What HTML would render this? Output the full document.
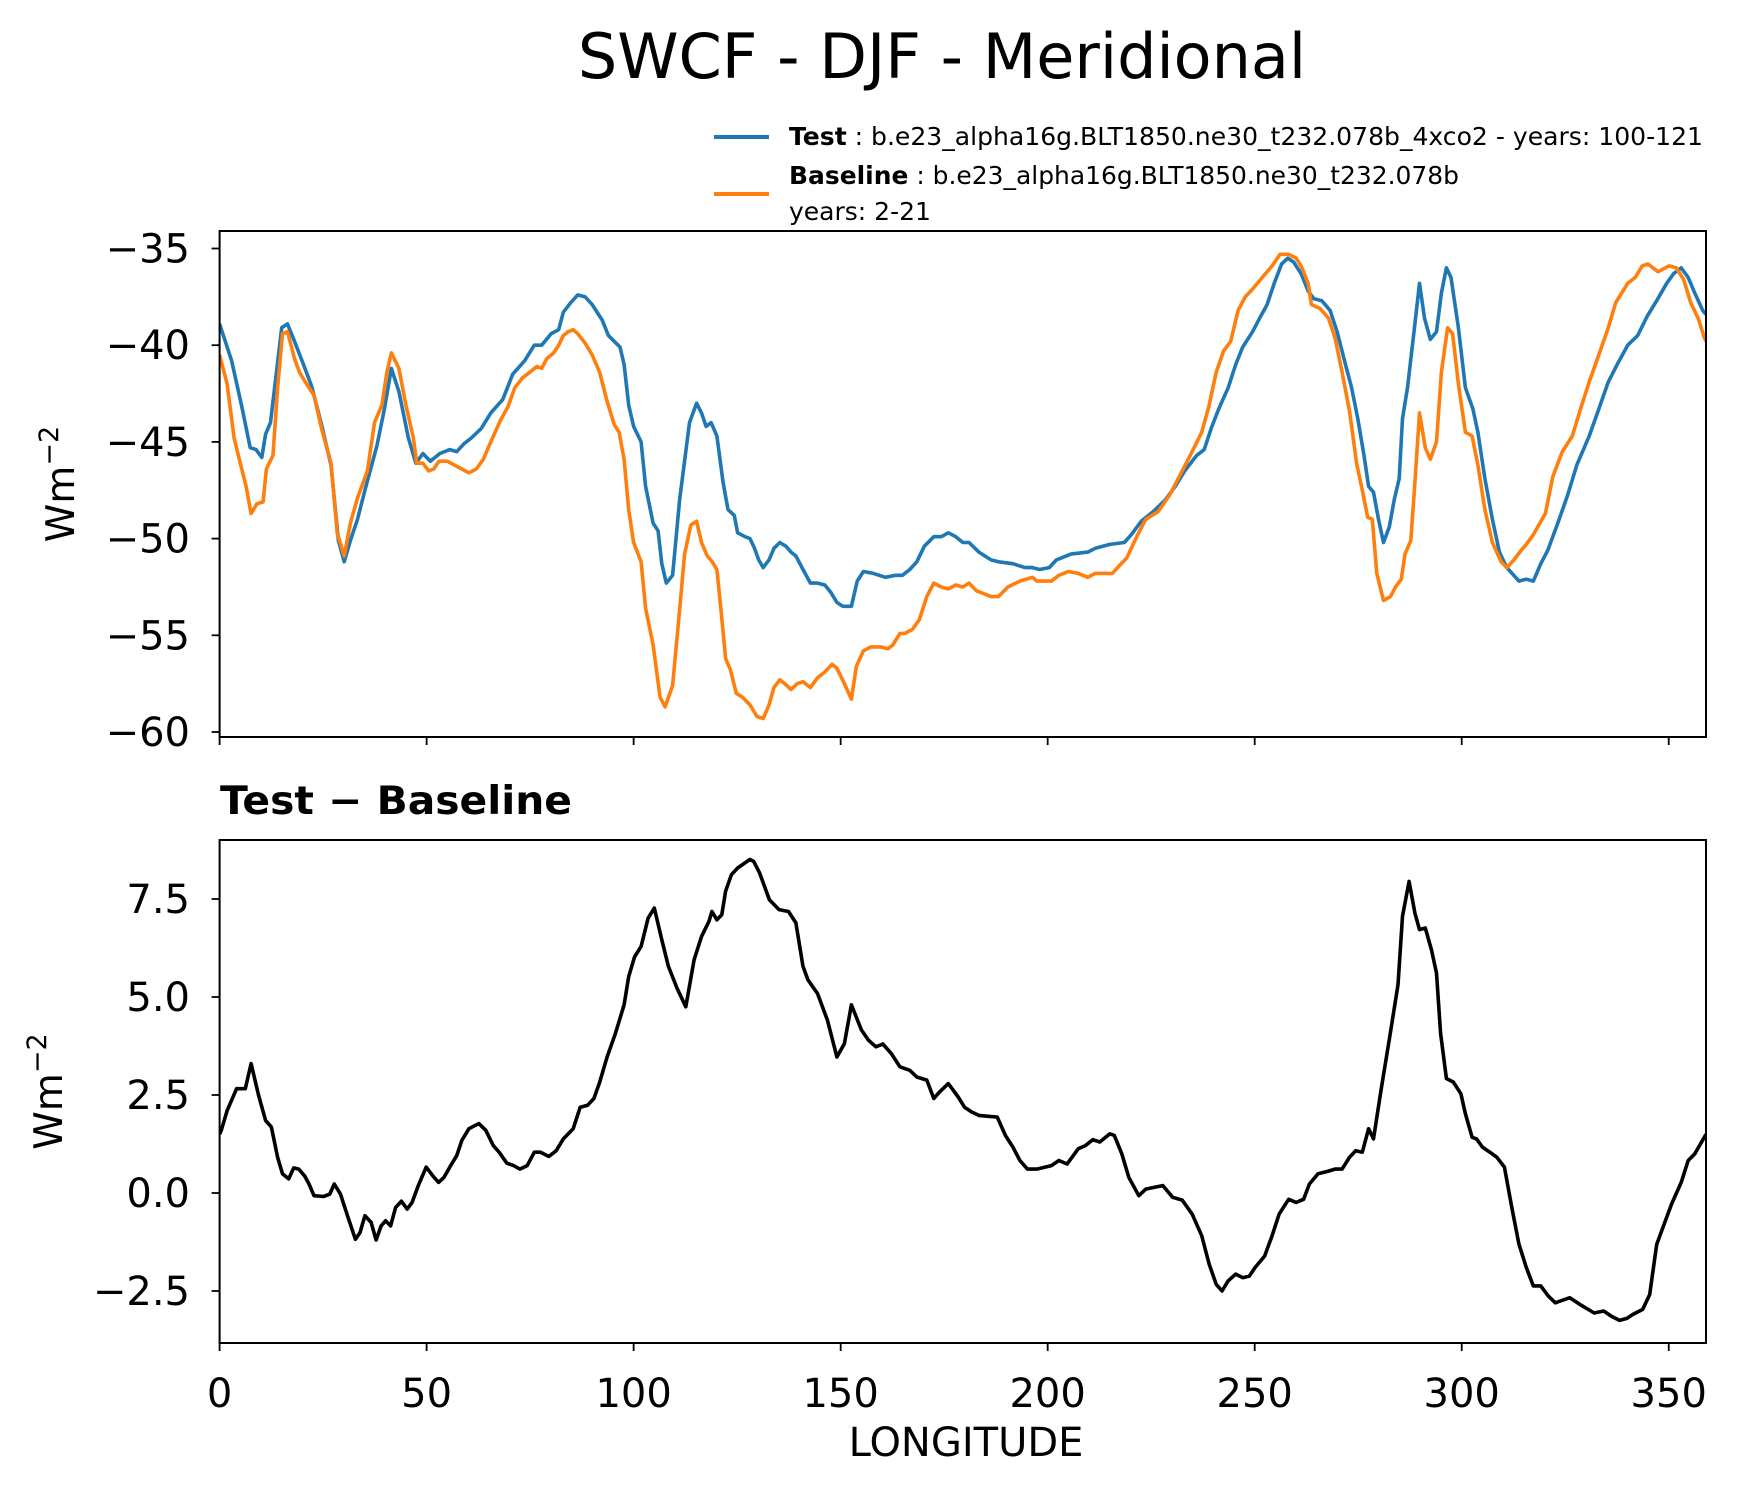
<!DOCTYPE html>
<html><head><meta charset="utf-8"><style>
html,body{margin:0;padding:0;background:#fff;}
svg{display:block;font-family:"DejaVu Sans","Liberation Sans",sans-serif;}
</style></head><body>
<svg id="chart" width="1739" height="1496" viewBox="0 0 1739 1496" xmlns="http://www.w3.org/2000/svg">
<rect width="1739" height="1496" fill="#fff"/>
<text x="942" y="78" font-size="62" text-anchor="middle">SWCF - DJF - Meridional</text>
<g>
<line x1="714" y1="137" x2="769" y2="137" stroke="#1f77b4" stroke-width="4"/>
<text x="789" y="145" font-size="25" textLength="914" lengthAdjust="spacingAndGlyphs"><tspan font-weight="bold">Test</tspan> : b.e23_alpha16g.BLT1850.ne30_t232.078b_4xco2 - years: 100-121</text>
<line x1="714" y1="194" x2="769" y2="194" stroke="#ff7f0e" stroke-width="4"/>
<text x="789" y="184" font-size="25" textLength="670" lengthAdjust="spacingAndGlyphs"><tspan font-weight="bold">Baseline</tspan> : b.e23_alpha16g.BLT1850.ne30_t232.078b</text>
<text x="789" y="220" font-size="25">years: 2-21</text>
</g>
<text x="220" y="814" font-size="39" font-weight="bold" textLength="352" lengthAdjust="spacingAndGlyphs">Test − Baseline</text>
<text x="966" y="1456" font-size="40" text-anchor="middle">LONGITUDE</text>
<g id="g1"></g>
<g id="g2"></g>
</svg>
<script>
const testLon=[0,2.9,5.3,7.4,8.8,10.2,11.1,12.3,15,16.4,18.1,19.9,22.2,24.6,26.9,28.7,30.1,31.6,33.3,35.1,38,39.8,41.5,43.3,45.6,47.4,49.1,50.9,53.2,55.6,57.3,59,60.8,63.2,65.5,68.4,70.8,73.7,76,77.8,80.1,81.9,83,84.8,86.5,88.3,90,92.4,93.9,95.3,96.7,97.7,98.8,100,101.8,102.9,104.7,105.9,106.8,107.9,109.4,111.1,113.5,115.2,116.4,117.5,118.7,120.1,121.6,122.8,124.3,125.1,126.9,128.1,129.2,130.2,131.3,132.7,133.9,135.3,136.8,138,139.2,140.9,142.7,144.4,146.2,147.7,149.1,150.5,152.6,154,155.5,157.9,160.8,163.2,164.9,166.7,168.4,170.2,172.5,174.3,176,177.8,179.5,181,183.4,186.3,188.1,191.6,194.5,196.3,198,200.4,202.1,205.6,209.7,211.5,215,218.5,220.2,222.6,225.5,228.4,230.8,233.1,236,237.8,239.5,241.3,243.6,245.4,247.1,249.5,251.2,253,254.7,256.5,258,259.4,261.2,262.9,264.3,266.2,268.2,269.9,271.7,273.4,274.9,276.4,277.5,278.7,279.9,281.1,282.5,283.7,284.9,285.7,286.9,288.7,289.8,291,292.4,293.9,295.1,296.3,297.4,299.2,300.9,302.7,303.9,305.6,307.4,309.1,310.9,313.8,315.6,317.3,319.1,320.8,323.2,325.5,327.8,330.8,333.1,335.4,337.8,340.1,342.5,344.8,347.1,349.5,351.2,353,354.7,356.5,358.2,359];
const testVal=[-38.9,-40.8,-43.1,-45.3,-45.4,-45.8,-44.6,-44,-39.1,-38.9,-39.8,-40.8,-42.1,-44.1,-46.2,-50.1,-51.2,-50.1,-49,-47.5,-45.2,-43.3,-41.2,-42.4,-44.8,-46.1,-45.6,-46,-45.6,-45.4,-45.5,-45.1,-44.8,-44.3,-43.5,-42.8,-41.5,-40.8,-40,-40,-39.4,-39.2,-38.3,-37.8,-37.4,-37.5,-37.9,-38.7,-39.5,-39.8,-40.1,-41,-43.1,-44.2,-45,-47.3,-49.2,-49.6,-51.3,-52.3,-51.9,-48,-44,-43,-43.5,-44.2,-44,-44.7,-47.1,-48.5,-48.8,-49.7,-49.9,-50,-50.5,-51.1,-51.5,-51.1,-50.5,-50.2,-50.4,-50.7,-50.9,-51.6,-52.3,-52.3,-52.4,-52.8,-53.3,-53.5,-53.5,-52.2,-51.7,-51.8,-52,-51.9,-51.9,-51.6,-51.2,-50.4,-49.9,-49.9,-49.7,-49.9,-50.2,-50.2,-50.7,-51.1,-51.2,-51.3,-51.5,-51.5,-51.6,-51.5,-51.1,-50.8,-50.7,-50.5,-50.3,-50.2,-49.8,-49.1,-48.6,-48,-47.3,-46.5,-45.7,-45.4,-44.3,-43.3,-42.2,-41,-40.1,-39.3,-38.6,-37.9,-36.8,-35.8,-35.5,-35.7,-36.3,-37.2,-37.6,-37.7,-38.2,-39.3,-40.8,-42.2,-43.8,-45.7,-47.3,-47.6,-49,-50.2,-49.4,-48,-46.9,-43.8,-42.2,-38.9,-36.8,-38.6,-39.7,-39.3,-37.3,-36,-36.5,-39.1,-42.2,-43.3,-44.5,-46.9,-49,-50.7,-51.5,-52.2,-52.1,-52.2,-51.3,-50.6,-49.2,-47.8,-46.2,-44.7,-43.3,-41.9,-40.9,-40,-39.5,-38.5,-37.7,-36.8,-36.3,-36,-36.5,-37.4,-38.2,-38.4];
const baseLon=[0,1.8,3.5,5,6.4,7.6,9,10.5,11.3,12.9,14,15.2,16.4,18.1,19.3,21,22.8,24.6,26.9,28.4,30.1,31.6,33.3,35.7,37.4,39.2,40.4,41.5,43.3,45,46.8,47.6,49.1,50.5,51.7,53,55,56.7,58.5,60.2,62,63.7,65.5,67.8,69.6,71.3,73.1,74.9,76.6,77.8,79,80.7,81.9,83,84.2,85.4,86.5,88.3,90,91.8,93.6,95.3,96.5,97.7,98.8,100,101.8,102.9,104.7,106.4,107.6,109.4,111.1,112.3,113.8,115.2,116.4,117.8,119,120.1,121.1,122.2,123.4,124.8,126.3,128.1,129.8,131.3,132.7,133.9,135.3,136.5,138,139.5,140.9,142.7,144.4,146.2,147.9,149.1,150.9,152.6,153.8,155.5,157.3,159.6,161.4,162.6,164.3,165.5,167.3,169,170.8,172.5,174.3,176,177.8,179.5,181,182.8,186.3,188.1,190.4,193.3,196.3,197.4,200.9,202.7,205,207.4,209.7,211.5,215.6,217.3,219.1,221.5,223.7,226.7,229.6,232.5,234.9,237.2,238.9,240.7,242.5,244.2,246,247.7,249.5,251.8,254.2,256.1,258.2,260,261.2,262.9,263.7,265.8,267.8,269.4,271.1,272.9,274.6,276,277.3,278.4,279.5,281.1,282.8,284,285.4,286.3,287.7,288.7,289.8,291.2,292.4,293.9,295.1,296.6,297.8,299.2,300.9,302.5,303.9,305.6,307.4,309.5,310.9,312.6,314.4,315.6,317.3,320.2,322,324.3,326.7,328.4,330.8,333.1,335.4,337.2,340.1,341.9,343.6,345,347.4,350.1,351.8,353.6,355.3,357.1,358.6,359];
const baseVal=[-40.5,-42,-44.8,-46.1,-47.3,-48.7,-48.2,-48.1,-46.4,-45.7,-42.2,-39.4,-39.3,-40.7,-41.4,-42,-42.6,-44.3,-46.1,-49.7,-50.9,-49.2,-47.9,-46.5,-44,-43.1,-41.4,-40.4,-41.2,-43.1,-44.8,-46.1,-46.1,-46.5,-46.4,-46,-46,-46.2,-46.4,-46.6,-46.4,-45.9,-45,-43.9,-43.2,-42.2,-41.7,-41.4,-41.1,-41.2,-40.7,-40.4,-40,-39.5,-39.3,-39.2,-39.4,-39.9,-40.5,-41.4,-42.9,-44.1,-44.5,-45.9,-48.5,-50.2,-51.2,-53.6,-55.5,-58.2,-58.7,-57.6,-53.7,-50.8,-49.3,-49.1,-50.2,-50.9,-51.2,-51.6,-53.7,-56.2,-56.8,-58,-58.2,-58.6,-59.2,-59.3,-58.6,-57.7,-57.3,-57.5,-57.8,-57.5,-57.4,-57.7,-57.2,-56.9,-56.5,-56.7,-57.5,-58.3,-56.6,-55.8,-55.6,-55.6,-55.7,-55.5,-54.9,-54.9,-54.7,-54.2,-53,-52.3,-52.5,-52.6,-52.4,-52.5,-52.3,-52.7,-53,-53,-52.5,-52.2,-52,-52.2,-52.2,-51.9,-51.7,-51.8,-52,-51.8,-51.8,-51.4,-51,-49.9,-49,-48.6,-47.7,-46.5,-45.5,-44.5,-43.2,-41.4,-40.3,-39.8,-38.2,-37.5,-37.1,-36.5,-35.9,-35.3,-35.3,-35.5,-35.9,-36.8,-37.9,-38.1,-38.6,-39.6,-41.4,-43.4,-46.1,-47.5,-48.9,-49,-51.8,-53.2,-53,-52.5,-52.1,-50.8,-50.1,-47.1,-43.5,-45.3,-45.9,-45,-41.4,-39.1,-39.4,-42,-44.5,-44.7,-46.2,-48.5,-50.2,-51.2,-51.5,-51.1,-50.6,-50.3,-49.8,-48.7,-46.8,-45.5,-44.7,-43.5,-41.9,-40.5,-39.1,-37.8,-36.8,-36.5,-35.9,-35.8,-36.2,-35.9,-36,-36.6,-37.8,-38.6,-39.6,-39.8];
const diffLon=[0,0.4,1.8,4.1,6.2,7.6,9.4,11.1,12.5,14,15.2,16.7,17.9,19.1,20.5,21.6,22.8,25.1,26.6,27.7,29.2,31,32.8,33.9,35.1,36.6,37.8,39,40.1,41.3,42.5,43.9,45.3,46.5,48,49.9,51.5,52.9,54.2,55.6,57.3,58.5,60.2,62.6,64.3,66.1,67.5,69.4,71,72.5,74.3,76,77.5,79.5,81.3,83,85.4,87.1,88.9,90.4,91.8,93.6,95.6,97.7,98.8,100.2,101.8,103.5,105,106.8,108.4,110.5,112.6,114.6,116.4,118.2,118.9,120.1,121.3,122.2,123.6,125.1,126.9,128.1,129,130.4,132.8,135.1,137.4,139.2,140.9,142.1,144.4,146.8,149.1,150.9,152.6,155,156.7,158.5,160.2,162.2,164.3,166.7,168.4,170.8,172.5,173.9,176,178.4,179.9,181.6,183.4,186.3,187.8,189.8,191.6,193.3,195.1,197.4,200.9,202.7,204.7,207.4,209.1,210.9,212.6,215,216.1,217.9,219.6,222,223.7,225.5,227.8,230.2,232.5,234.9,237.2,239,240.7,242.1,243.6,245.4,247.1,248.7,250.1,252.4,254.2,255.9,258.2,260,261.8,263.2,265.3,267.6,269.4,271.1,272.9,274.4,276,277.5,278.7,280.5,282.6,284.6,285.7,287.3,288.7,289.8,291.2,292.7,293.9,294.9,296.3,298,299.8,300.9,302.5,303.6,305,306.8,308.5,310.3,312.1,313.8,315.6,317.3,319.1,320.9,322.6,326.1,328.5,332,334.3,336.1,338.1,339.9,341.3,343.7,345.4,347.1,348.9,350.7,353,354.7,356.3,358.6,359];
const diffVal=[1.5,1.6,2.1,2.66,2.66,3.3,2.5,1.85,1.68,0.91,0.49,0.36,0.64,0.61,0.44,0.23,-0.07,-0.09,-0.03,0.23,-0.03,-0.62,-1.18,-1.01,-0.58,-0.75,-1.2,-0.84,-0.71,-0.84,-0.37,-0.21,-0.41,-0.24,0.19,0.66,0.44,0.27,0.4,0.66,0.96,1.34,1.64,1.77,1.6,1.21,1.04,0.76,0.7,0.61,0.7,1.04,1.04,0.93,1.08,1.38,1.64,2.19,2.24,2.41,2.83,3.47,4.07,4.8,5.52,6.02,6.29,7.01,7.27,6.46,5.78,5.22,4.75,5.95,6.54,6.93,7.18,6.97,7.1,7.7,8.12,8.29,8.42,8.51,8.46,8.17,7.48,7.23,7.18,6.89,5.78,5.44,5.09,4.41,3.47,3.81,4.8,4.16,3.9,3.73,3.8,3.56,3.22,3.13,2.96,2.88,2.41,2.58,2.79,2.45,2.19,2.07,1.98,1.95,1.94,1.47,1.17,0.83,0.61,0.61,0.7,0.83,0.74,1.13,1.21,1.36,1.3,1.51,1.47,1,0.4,-0.07,0.1,0.14,0.19,-0.11,-0.18,-0.54,-1.09,-1.82,-2.33,-2.5,-2.24,-2.07,-2.16,-2.12,-1.9,-1.61,-1.09,-0.54,-0.16,-0.24,-0.16,0.23,0.49,0.55,0.61,0.61,0.91,1.08,1.04,1.64,1.38,2.62,3.98,5.31,7.06,7.95,7.14,6.72,6.76,6.2,5.61,4.07,2.92,2.83,2.53,2.02,1.42,1.38,1.17,1.04,0.91,0.66,-0.37,-1.3,-1.9,-2.37,-2.37,-2.63,-2.8,-2.67,-2.84,-3.06,-3.01,-3.14,-3.25,-3.2,-3.1,-2.97,-2.59,-1.31,-0.79,-0.28,0.27,0.83,1,1.42,1.5];
const xTicks=[0,50,100,150,200,250,300,350];
const y1Ticks=[-35,-40,-45,-50,-55,-60];
const y1Labels=["−35","−40","−45","−50","−55","−60"];
const y2Ticks=[7.5,5.0,2.5,0.0,-2.5];
const y2Labels=["7.5","5.0","2.5","0.0","−2.5"];

const NS="http://www.w3.org/2000/svg";
const L=219.6,R=1706;
function xs(v){return L+(v-0)/(359-0)*(R-L);}
function mkY(top,bot,vTop,vBot){return v=>top+(vTop-v)/(vTop-vBot)*(bot-top);}
const p1={top:231,bot:737,y:mkY(248.5,732,-35,-60)};
const p2={top:840,bot:1343,y:mkY(899,1291,7.5,-2.5)};
function el(tag,attrs,parent){const e=document.createElementNS(NS,tag);for(const k in attrs)e.setAttribute(k,attrs[k]);parent.appendChild(e);return e;}
function drawLine(g,lon,val,ys,color,name){
  let d="";for(let i=0;i<lon.length;i++){d+=(i?"L":"M")+xs(lon[i]).toFixed(1)+","+ys(val[i]).toFixed(1);}
  const p=el("path",{d:d,fill:"none",stroke:color,"stroke-width":"3.6","stroke-linejoin":"round"},g);
  
  
}
function axes(g,p,yt,yl,showX,ylabelX,pname){
  const clip=el("clipPath",{id:"clip"+pname},g);
  el("rect",{x:L,y:p.top,width:R-L,height:p.bot-p.top},clip);
  for(let i=0;i<yt.length;i++){
    const y=p.y(yt[i]);
    const t=el("line",{x1:L-8,x2:L,y1:y,y2:y,stroke:"#000","stroke-width":"1.8"},g);
    
    
    const tx=el("text",{x:190,y:y+14,"font-size":"40","text-anchor":"end"},g);
    
    
    tx.textContent=yl[i];
  }
  for(const v of xTicks){
    const x=xs(v);
    const t=el("line",{x1:x,x2:x,y1:p.bot,y2:p.bot+8,stroke:"#000","stroke-width":"1.8"},g);
    
    
    if(showX){
      const tx=el("text",{x:x,y:p.bot+64,"font-size":"40","text-anchor":"middle"},g);
      
      
      tx.textContent=v;
    }
  }
  const cy=(p.top+p.bot)/2;
  const yl2=el("text",{x:ylabelX,y:cy,"font-size":"39","text-anchor":"middle",transform:"rotate(-90 "+ylabelX+" "+cy+")"},g);
  
  
  yl2.innerHTML='Wm<tspan dy="-16" font-size="27">−2</tspan>';
}
function frame(g,p){
  const r=el("rect",{x:L,y:p.top,width:R-L,height:p.bot-p.top,fill:"none",stroke:"#000","stroke-width":"2"},g);
  
  
}
const g1=document.getElementById("g1"),g2=document.getElementById("g2");
axes(g1,p1,y1Ticks,y1Labels,false,74,"1");
const c1=el("g",{"clip-path":"url(#clip1)"},g1);
drawLine(c1,testLon,testVal,p1.y,"#1f77b4","test-line");
drawLine(c1,baseLon,baseVal,p1.y,"#ff7f0e","baseline-line");
frame(g1,p1);
axes(g2,p2,y2Ticks,y2Labels,true,62,"2");
const c2=el("g",{"clip-path":"url(#clip2)"},g2);
drawLine(c2,diffLon,diffVal,p2.y,"#000","difference-line");
frame(g2,p2);
</script>
</body></html>
